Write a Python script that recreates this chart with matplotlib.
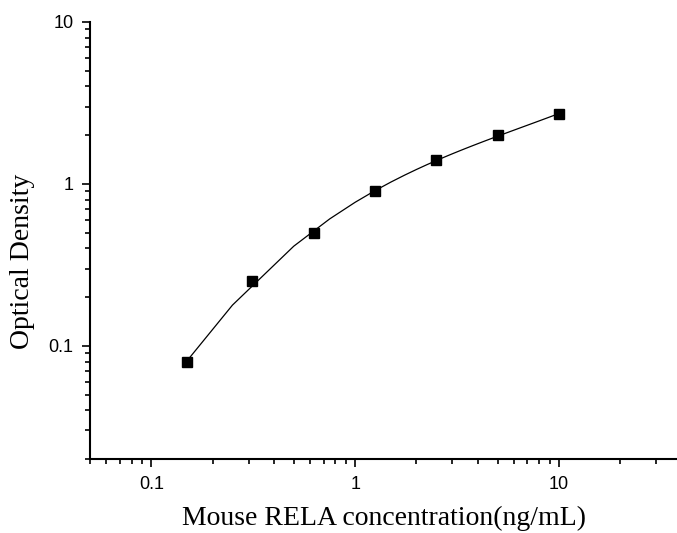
import numpy as np
import matplotlib
matplotlib.use('Agg')
from matplotlib import pyplot as plt
from matplotlib.ticker import LogLocator, FixedLocator, FixedFormatter, NullFormatter

# standard curve data
conc = [0.15, 0.3125, 0.625, 1.25, 2.5, 5, 10]
od = [0.08, 0.25, 0.5, 0.9, 1.4, 2.0, 2.7]
xticks = [0.1, 1, 10]
xticklabels = ['0.1', '1', '10']
yticks = [0.1, 1, 10]
yticklabels = ['0.1', '1', '10']

# smooth fit curve (cubic in log-log), sampled on a coarse linear grid like the original
coef = np.polyfit(np.log10(conc), np.log10(od), 3)
grid = np.concatenate([[conc[0]], np.arange(0.25, conc[-1] + 0.001, 0.25)])
fit = 10 ** np.polyval(coef, np.log10(grid))

fig = plt.figure(figsize=(6.77, 5.33), dpi=100)
ax = fig.add_axes([90 / 677, 1 - 459 / 533, 1 - 90 / 677, (459 - 22) / 533])
ax.plot(grid, fit, color='black', lw=0.9)
ax.plot(conc, od, 's', color='black', ms=6.5)

ax.set_xscale('log')
ax.set_yscale('log')
ax.set_xlim(0.05, 10 ** (np.log10(0.05) + 587 / 203.8))
ax.set_ylim(0.02, 10)

for s in ['top', 'right']:
    ax.spines[s].set_visible(False)
for s in ['left', 'bottom']:
    ax.spines[s].set_linewidth(1.5)

ax.xaxis.set_major_locator(FixedLocator(xticks))
ax.xaxis.set_major_formatter(FixedFormatter(xticklabels))
ax.yaxis.set_major_locator(FixedLocator(yticks))
ax.yaxis.set_major_formatter(FixedFormatter(yticklabels))
ax.xaxis.set_minor_locator(LogLocator(base=10, subs=np.arange(2, 10)))
ax.yaxis.set_minor_locator(LogLocator(base=10, subs=np.arange(2, 10)))
ax.xaxis.set_minor_formatter(NullFormatter())
ax.yaxis.set_minor_formatter(NullFormatter())
ax.tick_params(which='major', direction='out', length=6, width=1.2, labelsize=13, pad=6)
ax.tick_params(which='minor', direction='out', length=3.5, width=1.2)
for lab in ax.get_xticklabels() + ax.get_yticklabels():
    lab.set_family('Liberation Sans')

ax.set_xlabel('Mouse RELA concentration(ng/mL)', family='Liberation Serif', fontsize=20, va='center')
ax.set_ylabel('Optical Density', family='Liberation Serif', fontsize=20, va='center')
ax.xaxis.set_label_coords(0.5, (459 - 518) / 437)
ax.yaxis.set_label_coords((23 - 90) / 587, (459 - 261) / 437)

fig.savefig('out.png', dpi=100)
